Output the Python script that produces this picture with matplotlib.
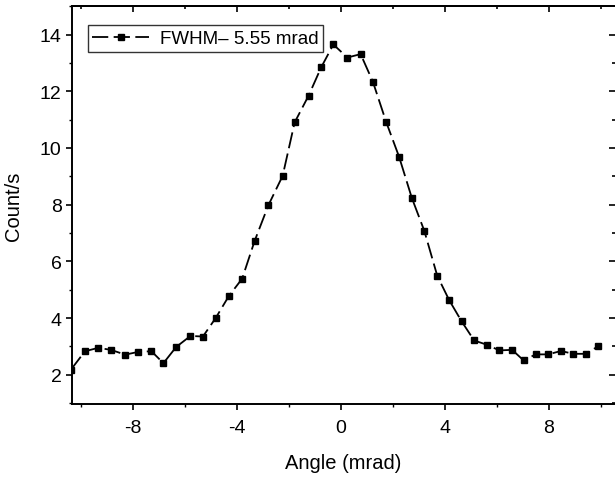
import numpy as np
import matplotlib.pyplot as plt
from matplotlib.ticker import MultipleLocator

plt.rcParams['font.family'] = ['Liberation Sans', 'DejaVu Sans']
plt.rcParams['axes.unicode_minus'] = False

# angle (mrad) and count rate
angle = [-10.39, -9.85, -9.34, -8.85, -8.30, -7.79, -7.29, -6.83, -6.34, -5.79,
         -5.31, -4.82, -4.31, -3.80, -3.32, -2.79, -2.24, -1.78, -1.24, -0.76,
         -0.29, 0.25, 0.76, 1.23, 1.75, 2.24, 2.73, 3.21, 3.71, 4.17,
         4.65, 5.13, 5.62, 6.10, 6.59, 7.03, 7.50, 7.98, 8.47, 8.94,
         9.42, 9.91]
counts = [2.18, 2.83, 2.95, 2.88, 2.71, 2.81, 2.83, 2.41, 2.98, 3.37,
          3.35, 4.00, 4.78, 5.39, 6.72, 7.98, 9.02, 10.90, 11.85, 12.84,
          13.65, 13.19, 13.31, 12.34, 10.90, 9.69, 8.24, 7.08, 5.49, 4.63,
          3.88, 3.21, 3.06, 2.86, 2.88, 2.51, 2.72, 2.72, 2.84, 2.74,
          2.74, 3.01]
label = 'FWHM\u2013 5.55 mrad'

fig = plt.figure(figsize=(6.15, 4.81), dpi=100)
ax = fig.add_axes([0.117, 0.158, 0.883, 0.827])

ax.plot(angle, counts, color='black', lw=1.3, ls=(0, (9, 3)),
        marker='s', ms=4.5, mec='black', mfc='black', label=label)

ax.set_xlim(-10.35, 10.55)
ax.set_ylim(0.97, 15.0)
ax.xaxis.set_major_locator(MultipleLocator(4))
ax.xaxis.set_minor_locator(MultipleLocator(2))
ax.yaxis.set_major_locator(MultipleLocator(2))
ax.yaxis.set_minor_locator(MultipleLocator(1))
ax.tick_params(which='major', direction='out', length=4, width=1.2, labelsize=14)
ax.tick_params(which='minor', direction='out', length=2.5, width=1.0)
ax.tick_params(axis='x', which='major', pad=7)
ax.set_yticks([2, 4, 6, 8, 10, 12, 14])
ax.set_xticks([-8, -4, 0, 4, 8])

for s in ['left', 'bottom', 'top']:
    ax.spines[s].set_linewidth(1.4)
ax.spines['right'].set_visible(False)

top = ax.secondary_xaxis('top')
top.xaxis.set_major_locator(MultipleLocator(4))
top.xaxis.set_minor_locator(MultipleLocator(2))
top.tick_params(which='both', direction='in', labeltop=False, width=1.2)
top.tick_params(which='major', length=4)
top.tick_params(which='minor', length=2.5)
top.spines['top'].set_linewidth(1.4)

right = ax.secondary_yaxis('right')
right.yaxis.set_major_locator(MultipleLocator(2))
right.yaxis.set_minor_locator(MultipleLocator(1))
right.tick_params(which='both', direction='in', labelright=False, width=1.2)
right.tick_params(which='major', length=4)
right.tick_params(which='minor', length=2.5)
right.spines['right'].set_visible(False)

ax.set_xlabel('Angle (mrad)', fontsize=14.5, labelpad=12)
ax.set_ylabel('Count/s', fontsize=14.5, labelpad=12)

leg = ax.legend(loc='upper left', bbox_to_anchor=(0.029, 0.952), fontsize=13.5,
                frameon=True, fancybox=False, handlelength=3.0,
                borderpad=0.25, handletextpad=0.6, borderaxespad=0)
leg.get_frame().set_edgecolor('black')
leg.get_frame().set_linewidth(1.0)

fig.savefig('out.png', dpi=100)
